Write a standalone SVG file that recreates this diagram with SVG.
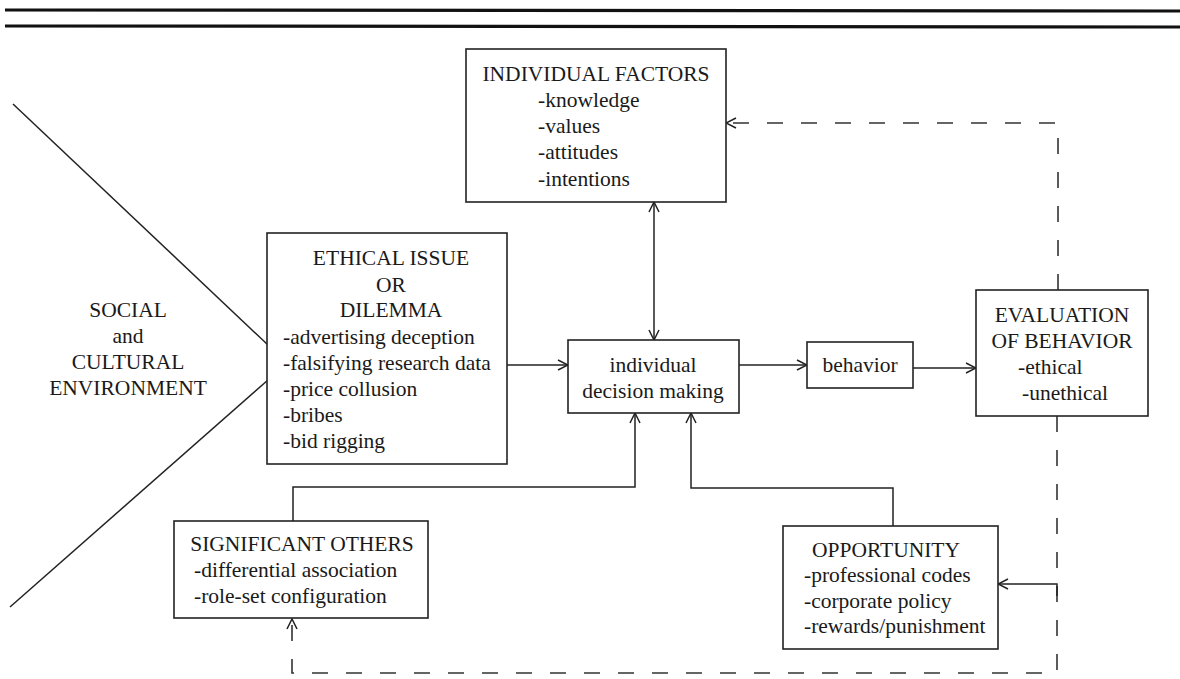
<svg xmlns="http://www.w3.org/2000/svg" width="1180" height="679" viewBox="0 0 1180 679">
<style>
  text { font-family: "Liberation Serif", "Times New Roman", serif; font-size: 21.5px; fill: #1a1a1a; }
  .c { text-anchor: middle; }
  .box { fill: #fff; stroke: #222; stroke-width: 1.6; }
  .ln { fill: none; stroke: #222; stroke-width: 1.5; }
  .dash { fill: none; stroke: #333; stroke-width: 1.6; stroke-dasharray: 16 18; }
  .rule { stroke: #111; stroke-width: 3.2; }
</style>
<defs>
  <marker id="ah" viewBox="0 0 12 12" refX="11" refY="6" markerWidth="12" markerHeight="12" markerUnits="userSpaceOnUse" orient="auto-start-reverse">
    <path d="M1,1 L11,6 L1,11" fill="none" stroke="#222" stroke-width="1.5"/>
  </marker>
</defs>
<rect width="1180" height="679" fill="#fff"/>
<g id="rules">
  <line class="rule" x1="5" y1="10" x2="1180" y2="11"/>
  <line class="rule" x1="5" y1="26" x2="1180" y2="27"/>
</g>
<g id="environment">
  <line class="ln" x1="13" y1="104" x2="268" y2="345"/>
  <line class="ln" x1="268" y1="380" x2="10" y2="607"/>
  <text class="c" x="128" y="317">SOCIAL</text>
  <text class="c" x="128" y="343">and</text>
  <text class="c" x="128" y="369">CULTURAL</text>
  <text class="c" x="128" y="395">ENVIRONMENT</text>
</g>
<g id="connectors">
  <line class="ln" x1="654" y1="202" x2="654" y2="340" marker-start="url(#ah)" marker-end="url(#ah)"/>
  <line class="ln" x1="507" y1="365" x2="568" y2="365" marker-end="url(#ah)"/>
  <line class="ln" x1="739" y1="365" x2="807" y2="365" marker-end="url(#ah)"/>
  <line class="ln" x1="913" y1="368" x2="976" y2="368" marker-end="url(#ah)"/>
  <polyline class="ln" points="293,521 293,487 635,487 635,413" marker-end="url(#ah)"/>
  <polyline class="ln" points="893,526 893,488 691,488 691,413" marker-end="url(#ah)"/>
  <polyline class="dash" points="1058,290 1058,123 726,123" marker-end="url(#ah)"/>
  <polyline class="dash" points="1057,416 1057,673 292,673 292,619" marker-end="url(#ah)"/>
  <polyline class="ln" points="1057,596 1057,584 998,584" marker-end="url(#ah)"/>
</g>
<g id="individual-factors">
  <rect class="box" x="466" y="49" width="260" height="153"/>
  <text class="c" x="596" y="81">INDIVIDUAL FACTORS</text>
  <text x="538" y="107">-knowledge</text>
  <text x="538" y="133">-values</text>
  <text x="538" y="159">-attitudes</text>
  <text x="538" y="186">-intentions</text>
</g>
<g id="ethical-issue">
  <rect class="box" x="267" y="233" width="240" height="231"/>
  <text class="c" x="391" y="265">ETHICAL ISSUE</text>
  <text class="c" x="391" y="292">OR</text>
  <text class="c" x="391" y="317">DILEMMA</text>
  <text x="283" y="344">-advertising deception</text>
  <text x="283" y="370">-falsifying research data</text>
  <text x="283" y="396">-price collusion</text>
  <text x="283" y="422">-bribes</text>
  <text x="283" y="448">-bid rigging</text>
</g>
<g id="decision-making">
  <rect class="box" x="568" y="340" width="171" height="73"/>
  <text class="c" x="653" y="372">individual</text>
  <text class="c" x="653" y="398">decision making</text>
</g>
<g id="behavior">
  <rect class="box" x="807" y="342" width="106" height="46"/>
  <text class="c" x="860" y="372">behavior</text>
</g>
<g id="evaluation">
  <rect class="box" x="976" y="290" width="172" height="126"/>
  <text class="c" x="1062" y="322">EVALUATION</text>
  <text class="c" x="1062" y="348">OF BEHAVIOR</text>
  <text x="1018" y="374">-ethical</text>
  <text x="1022" y="400">-unethical</text>
</g>
<g id="significant-others">
  <rect class="box" x="174" y="521" width="254" height="97"/>
  <text class="c" x="302" y="551">SIGNIFICANT OTHERS</text>
  <text x="194" y="577">-differential association</text>
  <text x="194" y="603">-role-set configuration</text>
</g>
<g id="opportunity">
  <rect class="box" x="783" y="526" width="215" height="123"/>
  <text class="c" x="886" y="557">OPPORTUNITY</text>
  <text x="804" y="582">-professional codes</text>
  <text x="804" y="608">-corporate policy</text>
  <text x="804" y="633">-rewards/punishment</text>
</g>
</svg>
